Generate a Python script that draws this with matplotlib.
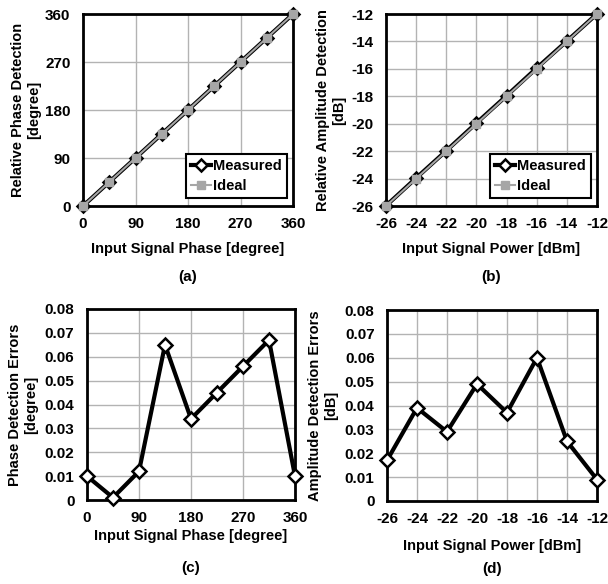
import matplotlib.pyplot as plt
import matplotlib as mlt

mlt.rc('font', family='Liberation Sans', weight='bold', size=10.5)
mlt.rcParams['axes.unicode_minus'] = False

# phase sweep (degrees)
phase_in = [0, 45, 90, 135, 180, 225, 270, 315, 360]
phase_meas = [0.01, 45.001, 90.012, 135.065, 180.034, 225.045, 270.056, 315.067, 360.01]
phase_ideal = [0, 45, 90, 135, 180, 225, 270, 315, 360]
phase_err = [0.010, 0.001, 0.012, 0.065, 0.034, 0.045, 0.056, 0.067, 0.010]

# power sweep (dBm / dB)
power_in = [-26, -24, -22, -20, -18, -16, -14, -12]
amp_meas = [-25.983, -23.961, -21.971, -19.951, -17.963, -15.940, -13.975, -11.991]
amp_ideal = [-26, -24, -22, -20, -18, -16, -14, -12]
amp_err = [0.017, 0.039, 0.029, 0.049, 0.037, 0.060, 0.025, 0.009]

err_ticks = [0, 0.01, 0.02, 0.03, 0.04, 0.05, 0.06, 0.07, 0.08]
err_labels = ['0', '0.01', '0.02', '0.03', '0.04', '0.05', '0.06', '0.07', '0.08']

W, H = 608, 584
fig = plt.figure(figsize=(W / 100, H / 100), dpi=100)


def make_ax(left, top, right, bottom):
    return fig.add_axes([left / W, 1 - bottom / H, (right - left) / W, (bottom - top) / H])


def style(ax):
    for s in ax.spines.values():
        s.set_linewidth(2)
        s.set_color('black')
    ax.grid(True, color='#b3b3b3', linewidth=1)
    ax.set_axisbelow(True)
    ax.tick_params(length=0, labelsize=11)
    ax.tick_params(axis='y', pad=9)
    ax.tick_params(axis='x', pad=8)


def measured_ideal(ax, x, meas, ideal):
    ax.plot(x, meas, color='black', linewidth=3, marker='D', markersize=6,
            markerfacecolor='white', markeredgecolor='black', markeredgewidth=1.8,
            label='Measured', clip_on=False, zorder=3)
    ax.plot(x, ideal, color='#a6a6a6', linewidth=1.5, marker='s', markersize=6,
            markerfacecolor='#a6a6a6', markeredgecolor='#a6a6a6',
            label='Ideal', clip_on=False, zorder=4)
    leg = ax.legend(loc='lower right', bbox_to_anchor=(0.97, 0.04), fancybox=False,
                    framealpha=1, edgecolor='black', handlelength=1.4,
                    handletextpad=0.1, borderpad=0.35, labelspacing=0.45,
                    borderaxespad=0, prop={'weight': 'bold', 'size': 10.5})
    leg.get_frame().set_linewidth(1.5)


def errors(ax, x, err):
    ax.plot(x, err, color='black', linewidth=3, marker='D', markersize=7,
            markerfacecolor='white', markeredgecolor='black', markeredgewidth=1.8,
            clip_on=False, zorder=3)


# (a) phase detection
ax = make_ax(83, 14, 293, 206)
style(ax)
measured_ideal(ax, phase_in, phase_meas, phase_ideal)
ax.set_xlim(0, 360)
ax.set_ylim(0, 360)
ax.set_xticks(range(0, 361, 90))
ax.set_yticks(range(0, 361, 90))
ax.set_xlabel('Input Signal Phase [degree]', fontweight='bold', labelpad=8)
ax.set_ylabel('Relative Phase Detection\n[degree]', fontweight='bold', labelpad=3)
ax.text(0.5, -0.37, '(a)', transform=ax.transAxes, ha='center', va='center', fontsize=11)

# (b) amplitude detection
ax = make_ax(386, 14, 597, 206)
style(ax)
measured_ideal(ax, power_in, amp_meas, amp_ideal)
ax.set_xlim(-26, -12)
ax.set_ylim(-26, -12)
ax.set_xticks(range(-26, -11, 2))
ax.set_yticks(range(-26, -11, 2))
ax.set_xlabel('Input Signal Power [dBm]', fontweight='bold', labelpad=8)
ax.set_ylabel('Relative Amplitude Detection\n[dB]', fontweight='bold', labelpad=4)
ax.text(0.5, -0.37, '(b)', transform=ax.transAxes, ha='center', va='center', fontsize=11)

# (c) phase errors
ax = make_ax(87, 309, 295, 500)
style(ax)
errors(ax, phase_in, phase_err)
ax.set_xlim(0, 360)
ax.set_ylim(0, 0.08)
ax.set_xticks(range(0, 361, 90))
ax.set_yticks(err_ticks)
ax.set_yticklabels(err_labels)
ax.set_xlabel('Input Signal Phase [degree]', fontweight='bold', labelpad=3)
ax.set_ylabel('Phase Detection Errors\n[degree]', fontweight='bold', labelpad=5)
ax.text(0.5, -0.355, '(c)', transform=ax.transAxes, ha='center', va='center', fontsize=11)

# (d) amplitude errors
ax = make_ax(387, 310, 597, 501)
style(ax)
errors(ax, power_in, amp_err)
ax.set_xlim(-26, -12)
ax.set_ylim(0, 0.08)
ax.set_xticks(range(-26, -11, 2))
ax.set_yticks(err_ticks)
ax.set_yticklabels(err_labels)
ax.set_xlabel('Input Signal Power [dBm]', fontweight='bold', labelpad=9)
ax.set_ylabel('Amplitude Detection Errors\n[dB]', fontweight='bold', labelpad=5)
ax.text(0.5, -0.355, '(d)', transform=ax.transAxes, ha='center', va='center', fontsize=11)

fig.savefig('out.png', dpi=100)
